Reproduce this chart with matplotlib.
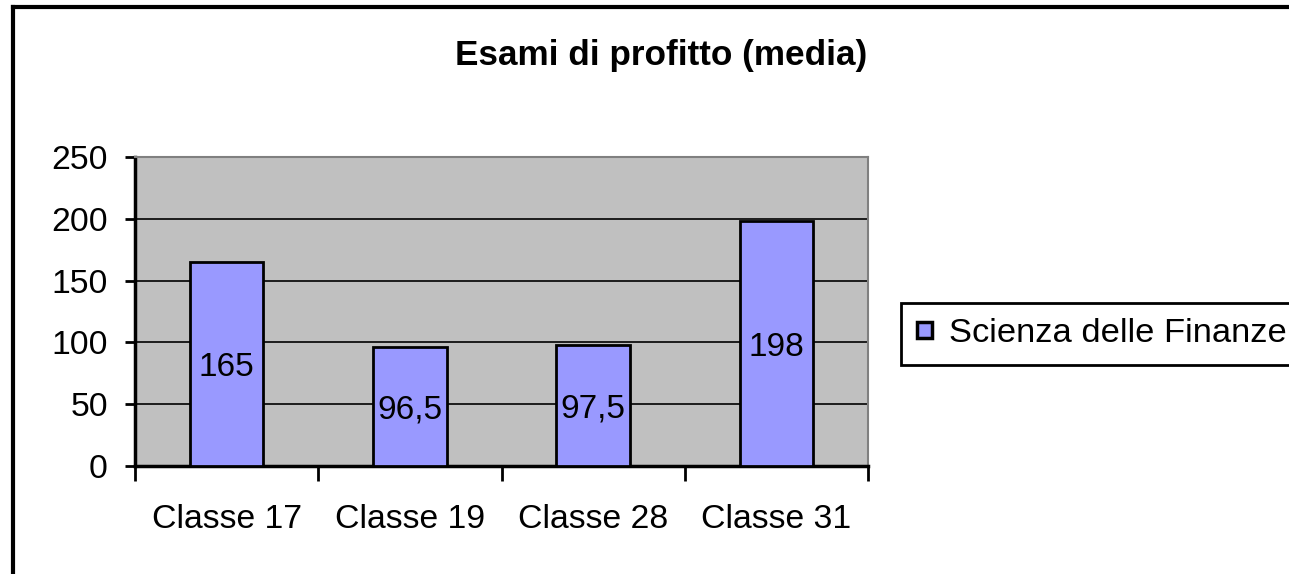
import matplotlib
matplotlib.use("Agg")
import matplotlib.pyplot as plt
from matplotlib.lines import Line2D
import numpy as np

categories = ["Classe 17", "Classe 19", "Classe 28", "Classe 31"]
values = [165, 96.5, 97.5, 198]
value_labels = ["165", "96,5", "97,5", "198"]
series_name = "Scienza delle Finanze"
title = "Esami di profitto (media)"
yticks = [0, 50, 100, 150, 200, 250]

plt.rcParams['font.family'] = ['Liberation Sans', 'DejaVu Sans']
FS = 24.3

W, H = 1289, 574
fig = plt.figure(figsize=(W / 100, H / 100), dpi=100)
fig.patch.set_facecolor('white')

left, right, top, bottom = 135, 868, 157, 466
ax = fig.add_axes([left / W, 1 - bottom / H, (right - left) / W, (bottom - top) / H])
ax.set_facecolor('#C0C0C0')

x = np.arange(len(categories))
bars = ax.bar(x, values, width=0.4, color='#9999FF', edgecolor='black', linewidth=2,
              label=series_name, zorder=3)
for xi, v, lab in zip(x, values, value_labels):
    ax.annotate(lab, (xi, v / 2), xytext=(0, -2.5), textcoords='offset points',
                ha='center', va='center', fontsize=24, color='#000000', zorder=4)

ax.set_xlim(-0.5, len(categories) - 0.5)
ax.set_ylim(0, 250)
ax.set_yticks(yticks)
ax.set_yticklabels([str(t) for t in yticks], fontsize=FS)
ax.yaxis.grid(True, color='black', linewidth=1.2, zorder=1)
ax.set_axisbelow(True)

# x ticks at category boundaries, labels at centers
ax.set_xticks(np.arange(len(categories) + 1) - 0.5)
ax.set_xticklabels([])
ax.set_xticks(x, minor=True)
ax.set_xticklabels(categories, minor=True, fontsize=FS)
ax.tick_params(axis='x', which='minor', length=0, pad=27)
ax.tick_params(axis='x', which='major', length=11, width=2, direction='out')
ax.tick_params(axis='y', length=7.5, width=2, direction='out', pad=12)

for s in ['left', 'bottom']:
    ax.spines[s].set_color('black')
    ax.spines[s].set_linewidth(2.5)
for s in ['top', 'right']:
    ax.spines[s].set_color('#808080')
    ax.spines[s].set_linewidth(1.5)

fig.text(661 / W, 1 - 56 / H, title, ha='center', va='center', fontsize=25.3, fontweight='bold')

leg = fig.legend(loc='center left', bbox_to_anchor=(901 / W, 1 - 334 / H), fontsize=24.8,
                 frameon=True, fancybox=False, edgecolor='black', framealpha=1,
                 handlelength=0.45, handleheight=0.33, handletextpad=0.5,
                 borderpad=0.45, borderaxespad=0)
leg.get_frame().set_linewidth(2)
for h in leg.legend_handles:
    h.set_linewidth(2.5)

# outer border (cut off at right and bottom)
fig.add_artist(Line2D([13 / W, 13 / W], [1 - 7 / H, -0.1], color='black', linewidth=3,
                      transform=fig.transFigure))
fig.add_artist(Line2D([13 / W, 1.1], [1 - 7 / H, 1 - 7 / H], color='black', linewidth=3,
                      transform=fig.transFigure))

fig.savefig('out.png', dpi=100)
